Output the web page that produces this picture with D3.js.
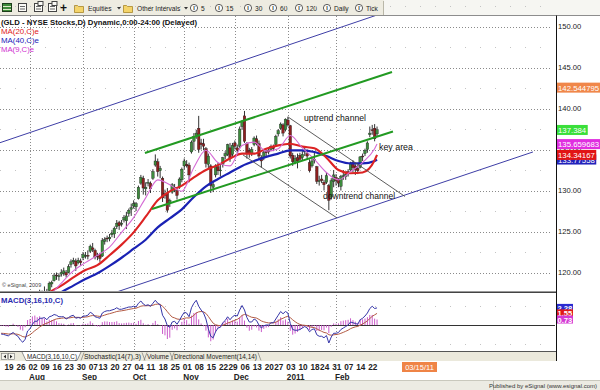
<!DOCTYPE html>
<html><head><meta charset="utf-8"><title>GLD</title>
<script src="https://cdn.jsdelivr.net/npm/d3@7/dist/d3.min.js"></script>
<style>body{margin:0;background:#fff}svg{display:block;font-family:"Liberation Sans",Arial,Helvetica,sans-serif}</style>
</head><body><svg id="chart" width="600" height="390"></svg>
<script>
// ---------------- DATA ----------------
const dates = [
"2010-07-15","2010-07-16","2010-07-19","2010-07-20","2010-07-21","2010-07-22","2010-07-23","2010-07-26","2010-07-27","2010-07-28","2010-07-29","2010-07-30",
"2010-08-02","2010-08-03","2010-08-04","2010-08-05","2010-08-06","2010-08-09","2010-08-10","2010-08-11","2010-08-12","2010-08-13","2010-08-16","2010-08-17","2010-08-18","2010-08-19","2010-08-20","2010-08-23","2010-08-24","2010-08-25","2010-08-26","2010-08-27","2010-08-30","2010-08-31",
"2010-09-01","2010-09-02","2010-09-03","2010-09-07","2010-09-08","2010-09-09","2010-09-10","2010-09-13","2010-09-14","2010-09-15","2010-09-16","2010-09-17","2010-09-20","2010-09-21","2010-09-22","2010-09-23","2010-09-24","2010-09-27","2010-09-28","2010-09-29","2010-09-30",
"2010-10-01","2010-10-04","2010-10-05","2010-10-06","2010-10-07","2010-10-08","2010-10-11","2010-10-12","2010-10-13","2010-10-14","2010-10-15","2010-10-18","2010-10-19","2010-10-20","2010-10-21","2010-10-22","2010-10-25","2010-10-26","2010-10-27","2010-10-28","2010-10-29",
"2010-11-01","2010-11-02","2010-11-03","2010-11-04","2010-11-05","2010-11-08","2010-11-09","2010-11-10","2010-11-11","2010-11-12","2010-11-15","2010-11-16","2010-11-17","2010-11-18","2010-11-19","2010-11-22","2010-11-23","2010-11-24","2010-11-26","2010-11-29","2010-11-30",
"2010-12-01","2010-12-02","2010-12-03","2010-12-06","2010-12-07","2010-12-08","2010-12-09","2010-12-10","2010-12-13","2010-12-14","2010-12-15","2010-12-16","2010-12-17","2010-12-20","2010-12-21","2010-12-22","2010-12-23","2010-12-27","2010-12-28","2010-12-29","2010-12-30","2010-12-31",
"2011-01-03","2011-01-04","2011-01-05","2011-01-06","2011-01-07","2011-01-10","2011-01-11","2011-01-12","2011-01-13","2011-01-14","2011-01-18","2011-01-19","2011-01-20","2011-01-21","2011-01-24","2011-01-25","2011-01-26","2011-01-27","2011-01-28","2011-01-31",
"2011-02-01","2011-02-02","2011-02-03","2011-02-04","2011-02-07","2011-02-08","2011-02-09","2011-02-10","2011-02-11","2011-02-14","2011-02-15","2011-02-16","2011-02-17","2011-02-18","2011-02-22","2011-02-23","2011-02-24","2011-02-25"];

const openP = [
117.0,117.2,116.4,115.5,115.6,116.3,116.0,115.4,114.3,113.2,113.0,114.0,
115.6,115.8,116.6,117.0,116.8,117.6,117.3,117.6,117.8,118.6,119.0,119.7,119.5,119.8,119.9,120.0,120.0,121.0,121.3,121.4,121.2,121.4,
121.8,122.1,122.1,122.6,123.0,122.7,122.0,122.2,122.0,123.8,124.2,124.1,124.6,124.7,125.6,126.1,125.9,126.4,126.3,127.2,127.7,
128.1,128.0,129.0,130.9,131.5,130.2,131.0,130.9,131.5,133.1,133.5,132.4,131.5,129.6,129.7,128.5,129.8,130.2,130.0,130.4,131.3,
133.0,133.2,133.1,134.7,136.0,136.7,137.6,135.8,135.7,135.1,133.2,133.0,130.4,131.9,132.9,132.5,133.2,134.2,134.4,135.2,134.4,
135.8,135.2,135.4,137.8,139.1,135.7,134.9,134.5,135.6,136.3,135.7,134.0,134.0,134.8,134.9,135.0,135.3,135.6,136.9,137.6,138.0,137.4,
138.6,137.9,134.3,133.4,134.0,134.3,134.0,134.7,134.5,133.4,133.0,133.7,132.9,131.2,131.4,131.0,131.0,130.6,129.2,131.1,
131.6,131.4,130.5,131.8,131.7,132.3,132.5,133.4,133.0,132.7,132.8,134.2,134.5,135.0,136.8,137.4,137.6,136.9];
const highP = [
117.6,117.6,116.4,116.1,116.4,116.8,116.3,115.6,114.4,113.6,114.1,115.8,
116.1,116.8,117.1,117.3,117.9,117.8,118.3,118.0,118.9,119.0,119.9,120.0,119.9,120.4,120.6,120.3,121.0,121.6,121.8,121.7,121.8,121.7,
122.5,122.5,122.7,123.4,123.6,122.9,122.4,122.4,124.2,124.3,124.5,124.7,125.2,125.6,126.4,126.3,126.4,127.0,127.4,127.8,128.4,
128.8,128.6,130.6,131.9,131.8,131.0,131.4,131.1,132.6,134.4,133.9,133.0,131.7,130.1,130.3,129.0,130.9,130.8,130.2,131.6,132.8,
133.9,133.7,133.4,136.1,137.0,137.4,139.1,136.3,136.3,135.3,134.5,133.2,131.2,133.2,133.4,133.1,134.1,134.8,135.7,135.8,135.8,
136.1,135.6,137.8,138.6,139.7,135.9,135.2,135.3,136.6,136.7,136.1,134.3,134.9,135.0,135.3,135.6,135.6,136.8,137.5,138.3,138.2,138.8,
139.0,138.0,134.6,134.3,134.5,134.6,134.8,135.2,135.0,133.8,134.1,134.6,133.0,131.8,131.9,131.3,132.2,130.8,131.5,132.5,
132.0,131.5,131.9,132.5,132.3,132.6,133.5,133.7,133.2,133.1,134.2,134.5,135.1,136.0,137.8,138.0,138.1,137.8];
const lowP = [
116.3,116.2,115.3,114.9,115.3,115.8,114.9,114.6,112.7,112.4,112.9,113.8,
115.2,115.6,116.2,116.3,116.5,117.0,116.9,116.8,117.6,118.2,118.9,119.1,119.0,119.5,119.6,119.4,119.9,120.6,121.0,120.2,121.0,120.8,
121.5,121.7,121.6,122.4,122.5,121.6,121.5,121.3,121.9,123.4,123.7,123.8,124.3,124.2,125.3,125.2,125.6,126.1,125.3,126.8,126.9,
127.8,127.5,128.9,130.7,129.5,129.4,130.5,129.7,131.3,132.9,131.7,131.5,128.6,129.0,127.3,128.0,129.6,129.8,128.9,130.2,131.0,
132.6,132.8,131.0,134.5,134.9,136.3,134.6,135.0,134.9,132.8,132.7,129.7,129.8,131.6,131.9,131.7,132.8,133.8,134.2,133.5,134.1,
135.0,134.5,135.2,137.4,135.8,133.9,134.0,134.2,135.4,135.5,133.8,132.8,133.7,134.1,134.4,134.8,134.8,135.4,136.6,137.4,136.6,137.2,
137.8,133.9,133.0,133.2,132.7,133.5,133.7,134.2,133.8,132.2,132.8,133.3,130.8,130.6,130.9,130.0,130.8,127.6,128.9,130.4,
130.6,130.4,130.0,131.3,131.3,131.7,132.4,132.2,131.9,132.0,132.7,133.6,134.2,134.6,136.5,136.8,136.0,136.6];
const closeP = [
117.0,116.6,115.8,115.2,116.0,116.3,115.3,115.0,113.0,112.8,113.5,115.5,
115.5,116.6,116.9,116.5,117.5,117.4,117.7,117.1,118.7,118.8,119.6,119.6,119.6,120.0,120.2,119.7,120.7,121.3,121.5,120.8,121.5,121.2,
122.2,122.1,122.0,123.2,122.8,121.9,121.9,121.7,123.9,124.0,124.1,124.3,124.8,125.4,126.0,125.7,126.0,126.7,126.9,127.6,127.9,
128.4,128.4,130.4,131.6,130.3,130.4,131.0,130.2,132.3,133.6,132.3,132.7,129.1,129.4,127.6,128.8,130.7,130.4,129.4,131.4,132.6,
133.6,133.0,131.9,135.9,136.6,137.0,135.0,135.6,135.4,133.3,134.2,130.6,130.7,133.0,132.4,132.5,134.0,134.5,135.6,133.9,135.5,
135.4,134.9,137.5,138.4,136.0,134.6,134.5,135.0,136.4,135.7,134.2,133.6,134.6,134.6,134.7,135.4,135.1,136.6,137.3,138.1,137.0,138.7,
138.0,134.2,133.5,133.9,133.6,133.8,134.4,134.9,134.2,132.4,133.6,133.8,131.1,131.2,131.2,130.7,131.8,128.8,131.2,131.9,
131.2,130.9,131.7,131.8,132.0,132.2,133.3,132.8,132.5,132.4,134.1,134.1,134.9,135.8,137.0,137.3,136.3,137.4];

// moving averages, read every 5th session (+ last)
const maSampleIdx = [0,5,10,15,20,25,30,35,40,45,50,55,60,65,70,75,80,85,90,95,100,105,110,115,120,125,130,135,140,145,150,155,156];
const ma20 = [117.3,116.8,116.4,116.6,117.6,118.4,119.4,120.3,120.9,122.1,123.4,124.9,126.8,128.8,129.9,130.6,131.6,132.5,133.1,133.9,134.5,134.5,135.1,135.5,135.7,135.35,135.15,134.0,132.5,132.1,132.2,133.7,134.34];
const ma40 = [116.9,116.7,116.4,116.3,116.6,117.6,118.4,119.2,119.9,120.8,121.8,122.9,124.0,125.5,126.6,127.7,129.2,130.5,131.4,132.2,133.0,133.6,134.1,134.5,134.9,134.9,134.7,134.2,133.6,133.3,133.3,133.6,133.77];
const ma9  = [116.6,115.9,114.8,115.0,117.1,118.7,120.2,121.2,122.1,123.1,124.9,126.7,129.1,131.3,130.7,129.9,132.8,134.9,133.4,133.0,135.5,135.9,134.8,135.1,136.7,135.2,133.8,132.2,131.3,132.3,133.4,135.1,135.66];

// MACD(3,16,10)
const macdLine = [
-1.20,-1.25,-1.35,-1.45,-1.20,-1.00,-1.30,-1.50,-2.00,-2.30,
-1.90,-0.80,-0.50,0.10,0.50,0.50,0.90,0.90,1.00,0.70,
1.10,1.20,1.40,1.30,1.10,1.10,1.10,0.80,1.00,1.20,
1.30,0.90,1.00,0.90,1.20,1.20,1.30,1.70,1.50,1.10,
1.00,0.90,1.60,1.80,1.90,1.90,2.00,2.10,2.30,2.10,
2.10,2.20,2.30,2.40,2.40,2.50,2.40,2.90,3.20,2.80,
2.60,2.70,2.50,2.90,3.30,2.90,2.70,1.30,0.80,-0.10,
-0.30,0.40,0.50,0.10,0.60,1.20,1.70,1.60,1.10,2.30,
2.90,3.30,2.50,2.00,1.60,0.80,-0.50,-1.50,-1.70,-0.90,
-0.40,-0.30,0.30,0.60,1.10,0.70,1.10,1.30,1.20,2.00,
2.60,2.00,1.00,0.40,0.40,0.80,0.60,0.00,-0.40,-0.10,
0.00,0.00,0.30,0.30,0.80,1.30,1.80,1.50,1.80,1.60,
0.20,-0.60,-0.70,-0.70,-0.60,-0.40,-0.20,-0.40,-0.90,-0.60,
-0.50,-1.30,-1.50,-1.50,-1.70,-1.40,-2.40,-1.60,-1.10,-1.10,
-1.00,-0.60,-0.40,-0.20,0.00,0.40,0.30,0.20,0.10,0.70,
0.90,1.20,1.60,2.20,2.50,2.20,2.28];
const macdSignal = [
-1.10,-1.12,-1.15,-1.20,-1.20,-1.17,-1.19,-1.25,-1.38,-1.55,
-1.61,-1.46,-1.29,-1.04,-0.76,-0.53,-0.27,-0.06,0.13,0.23,
0.39,0.54,0.70,0.81,0.86,0.90,0.94,0.91,0.93,0.98,
1.04,1.02,1.02,1.00,1.03,1.06,1.10,1.21,1.26,1.23,
1.19,1.14,1.22,1.32,1.43,1.51,1.60,1.69,1.80,1.85,
1.89,1.95,2.01,2.08,2.14,2.20,2.24,2.36,2.51,2.56,
2.56,2.58,2.57,2.63,2.75,2.78,2.76,2.49,2.18,1.77,
1.39,1.05,0.95,0.80,0.76,0.78,0.90,0.95,0.93,1.05,
1.30,1.60,1.75,1.80,1.76,1.55,1.15,0.67,0.24,0.03,
-0.05,-0.10,-0.03,0.08,0.26,0.37,0.50,0.64,0.75,0.97,
1.28,1.41,1.34,1.17,1.03,0.99,0.92,0.75,0.54,0.42,
0.34,0.28,0.28,0.28,0.37,0.54,0.77,0.90,1.06,1.16,
0.98,0.69,0.44,0.23,0.08,-0.01,-0.04,-0.10,-0.24,-0.31,
-0.34,-0.51,-0.69,-0.84,-0.99,-1.06,-1.30,-1.36,-1.31,-1.27,
-1.22,-1.11,-0.98,-0.84,-0.69,-0.49,-0.35,-0.25,-0.19,-0.03,
0.14,0.33,0.56,0.86,1.16,1.35,1.55];
const macdHist = [
-0.10,-0.13,-0.20,-0.25,0.00,0.17,-0.11,-0.25,-0.62,-0.75,
-0.29,0.66,0.79,1.14,1.26,1.03,1.17,0.96,0.87,0.47,
0.71,0.66,0.70,0.49,0.24,0.20,0.16,-0.11,0.07,0.22,
0.26,-0.12,-0.02,-0.10,0.17,0.14,0.20,0.49,0.24,-0.13,
-0.19,-0.24,0.38,0.48,0.47,0.39,0.40,0.41,0.50,0.25,
0.21,0.25,0.29,0.32,0.26,0.30,0.16,0.54,0.69,0.24,
0.04,0.12,-0.07,0.27,0.55,0.12,-0.06,-1.19,-1.38,-1.87,
-1.69,-0.65,-0.45,-0.70,-0.16,0.42,0.80,0.65,0.17,1.25,
1.60,1.70,0.75,0.20,-0.16,-0.75,-1.65,-2.17,-1.94,-0.93,
-0.35,-0.20,0.33,0.52,0.84,0.33,0.60,0.66,0.45,1.03,
1.32,0.59,-0.34,-0.77,-0.63,-0.19,-0.32,-0.75,-0.94,-0.52,
-0.34,-0.28,0.02,0.02,0.43,0.76,1.03,0.60,0.74,0.44,
-0.78,-1.29,-1.14,-0.93,-0.68,-0.39,-0.16,-0.30,-0.66,-0.29,
-0.16,-0.79,-0.81,-0.66,-0.71,-0.34,-1.10,-0.24,0.21,0.17,
0.22,0.51,0.58,0.64,0.69,0.89,0.65,0.45,0.29,0.73,
0.76,0.87,1.04,1.34,1.34,0.85,0.73];

// axis / labels
const priceTicks = [120,125,130,135,140,145,150];
const dayTickDates = ["2010-07-19","2010-07-26","2010-08-02","2010-08-09","2010-08-16","2010-08-23","2010-08-30","2010-09-07","2010-09-13","2010-09-20","2010-09-27","2010-10-04","2010-10-11","2010-10-18","2010-10-25","2010-11-01","2010-11-08","2010-11-15","2010-11-22","2010-11-29","2010-12-06","2010-12-13","2010-12-20","2010-12-27","2011-01-03","2011-01-10","2011-01-18","2011-01-24","2011-01-31","2011-02-07","2011-02-14","2011-02-22"];
const monthTickDates = ["2010-08-02","2010-09-01","2010-10-01","2010-11-01","2010-12-01","2011-01-03","2011-02-01"];
const monthTickLabels = ["Aug","Sep","Oct","Nov","Dec","2011","Feb"];
const lastValueLabels = ["142.544795","137.384","135.659683","134.34167","133.77558"]; // channel, close, MA9, MA20, MA40
const macdValueLabels = ["2.28","1.55","0.73"];

// drawn tools: [session index, price] end points
const blueUpper = [[-0.45,135.83],[156,151.4]];
const blueLower = [[45,117.33],[220.7,134.70]];
const greenUpper = [[59.7,134.57],[162.2,144.45]];
const greenLower = [[62.6,127.74],[162.6,137.20]];
const downUpper = [[119.1,138.96],[167.6,129.27]];
const downLower = [[100.4,134.33],[139.4,126.65]];
const notes = [["uptrend channel",125.7,138.48],["key area",156.8,134.94],["downtrend channel",133.6,128.96]];

// ---------------- DRAW ----------------
const svg = d3.select("#chart");
const n = dates.length;
const x = d3.scaleLinear().domain([0, n-1]).range([1.08, 377.04]);
const y = d3.scaleLinear().domain([120,150]).range([272.5,26.5]);
const ym = d3.scaleLinear().domain([-4,4]).range([355,295]);
const di = s => dates.indexOf(s);
const r5 = v => Math.round(v)+0.5;

svg.append("rect").attr("width",600).attr("height",390).attr("fill","#fff");
const defs = svg.append("defs");
defs.append("clipPath").attr("id","clipP").append("rect").attr("x",0).attr("y",16).attr("width",553).attr("height",275);
defs.append("clipPath").attr("id","clipM").append("rect").attr("x",0).attr("y",293).attr("width",555).attr("height",58);

// toolbar
const tb = svg.append("g");
tb.append("rect").attr("x",0).attr("y",0).attr("width",384).attr("height",15).attr("fill","#eeece1");
tb.append("rect").attr("x",384).attr("y",0).attr("width",216).attr("height",15).attr("fill","#f6f6f2");
tb.append("line").attr("x1",383.5).attr("x2",383.5).attr("y1",1).attr("y2",15).attr("stroke","#b9b7a8");
tb.append("rect").attr("x",2.5).attr("y",3.5).attr("width",9).attr("height",8).attr("fill","#3f8a3a").attr("stroke","#1d3d1b");
tb.append("line").attr("x1",3).attr("x2",11).attr("y1",6.5).attr("y2",6.5).attr("stroke","#dfe9c8");
tb.append("line").attr("x1",3).attr("x2",11).attr("y1",9.5).attr("y2",9.5).attr("stroke","#dfe9c8");
[18,34,48].forEach((ix,k)=>{
  tb.append("rect").attr("x",ix+0.5).attr("y",3.5).attr("width",8).attr("height",8).attr("fill","#fbfbf6").attr("stroke","#444");
  tb.append("line").attr("x1",ix+2).attr("x2",ix+7).attr("y1",6.5).attr("y2",6.5).attr("stroke","#666");
  tb.append("line").attr("x1",ix+2).attr("x2",ix+7).attr("y1",9).attr("y2",9).attr("stroke","#666");
  if(k>0) tb.append("rect").attr("x",ix+4).attr("y",1.5).attr("width",5).attr("height",4).attr("fill","#fbfbf6").attr("stroke","#444");
});
tb.append("text").attr("x",60).attr("y",12).attr("font-size",12).attr("font-weight","bold").attr("fill","#111").text("+");
[74,123].forEach(ix=>{
  tb.append("path").attr("d",`M${ix+0.5},5.5 h3 l1,1 h5 v6 h-9 z`).attr("fill","#f4d46a").attr("stroke","#a8862a").attr("stroke-width",0.8);
});
tb.append("text").attr("x",88).attr("y",10.5).attr("font-size",6.6).attr("fill","#222").text("Equities");
tb.append("path").attr("d","M117,7 h4 l-2,2.5 z").attr("fill","#333");
tb.append("text").attr("x",137).attr("y",10.5).attr("font-size",6.6).attr("fill","#222").text("Other Intervals");
tb.append("path").attr("d","M184,7 h4 l-2,2.5 z").attr("fill","#333");
const intervals = ["5","15","30","60","120","Daily","Tick"];
const icx = [194,219,248,273,299,327,359];
intervals.forEach((t,k)=>{
  tb.append("circle").attr("cx",icx[k]).attr("cy",8).attr("r",3.6).attr("fill","#fff").attr("stroke","#333").attr("stroke-width",0.8);
  tb.append("text").attr("x",icx[k]).attr("y",10.2).attr("text-anchor","middle").attr("font-size",5.5).attr("font-weight","bold").attr("fill","#222").text("I");
  tb.append("text").attr("x",icx[k]+7).attr("y",10.5).attr("font-size",6.6).attr("fill","#222").text(t);
});
svg.append("line").attr("x1",0).attr("x2",600).attr("y1",15.5).attr("y2",15.5).attr("stroke","#8d8d8d");

// grid
const grid = svg.append("g");
priceTicks.forEach(p=>{
  grid.append("line").attr("x1",0).attr("x2",552).attr("y1",r5(y(p))).attr("y2",r5(y(p))).attr("stroke","#8a8a8a").attr("stroke-dasharray","1,2");
  grid.append("line").attr("x1",0).attr("x2",552).attr("y1",r5(y(p+2.5))).attr("y2",r5(y(p+2.5))).attr("stroke","#c4c4c4").attr("stroke-dasharray","1,14");
});
monthTickDates.forEach(d=>{
  const xx = r5(x(di(d)));
  grid.append("line").attr("x1",xx).attr("x2",xx).attr("y1",16).attr("y2",351).attr("stroke","#8a8a8a").attr("stroke-dasharray","1,2");
});
[-2.5,2.5].forEach(v=>grid.append("line").attr("x1",0).attr("x2",552).attr("y1",r5(ym(v))).attr("y2",r5(ym(v))).attr("stroke","#c4c4c4").attr("stroke-dasharray","1,14"));

// price panel
const pg = svg.append("g").attr("clip-path","url(#clipP)");
pg.append("text").attr("x",2).attr("y",287).attr("font-size",5.5).attr("fill","#444").text("© eSignal, 2009");
const cand = pg.append("g");
dates.forEach((d,i)=>{
  const cx = x(i);
  cand.append("line").attr("x1",cx).attr("x2",cx).attr("y1",y(highP[i])).attr("y2",y(lowP[i])).attr("stroke","#1c1c1c").attr("stroke-width",0.9);
  const up = closeP[i] >= openP[i];
  const top = y(Math.max(openP[i],closeP[i])), bot = y(Math.min(openP[i],closeP[i]));
  cand.append("rect").attr("x",cx-1.3).attr("width",2.6).attr("y",top).attr("height",Math.max(0.9,bot-top))
    .attr("fill", up ? "#3d8b3d" : "#8e1f1f").attr("stroke","#1c1c1c").attr("stroke-width",0.35);
});
const maLine = arr => d3.line().x((v,k)=>x(maSampleIdx[k])).y(v=>y(v)).curve(d3.curveMonotoneX)(arr);
pg.append("path").attr("d",maLine(ma40)).attr("fill","none").attr("stroke","#1a22b4").attr("stroke-width",2.2);
pg.append("path").attr("d",maLine(ma20)).attr("fill","none").attr("stroke","#dc2323").attr("stroke-width",2.1);
pg.append("path").attr("d",maLine(ma9)).attr("fill","none").attr("stroke","#d56ad5").attr("stroke-width",1.1);
const seg = (pts,col,w)=>pg.append("line").attr("x1",x(pts[0][0])).attr("y1",y(pts[0][1])).attr("x2",x(pts[1][0])).attr("y2",y(pts[1][1])).attr("stroke",col).attr("stroke-width",w);
seg(blueUpper,"#3e3ea6",1); seg(blueLower,"#3e3ea6",1);
seg(greenUpper,"#229a22",2); seg(greenLower,"#229a22",2);
seg(downUpper,"#4a4a4a",0.9); seg(downLower,"#4a4a4a",0.9);
const noteW = [62,34,72];
notes.forEach((t,k)=>{
  pg.append("text").attr("x",x(t[1])).attr("y",y(t[2])).attr("font-size",9).attr("fill","#111")
    .attr("textLength",noteW[k]).attr("lengthAdjust","spacingAndGlyphs").text(t[0]);
});
// legend
svg.append("text").attr("x",1).attr("y",24.5).attr("font-size",8).attr("font-weight","bold").attr("fill","#111")
  .attr("textLength",196).attr("lengthAdjust","spacingAndGlyphs").text("(GLD - NYSE Stocks,D) Dynamic,0:00-24:00 (Delayed)");
[["MA(20,C)e","#e02020",33.5,38],["MA(40,C)e","#2020b8",42.8,38],["MA(9,C)e","#d030d0",52,33]].forEach(m=>{
  svg.append("text").attr("x",1).attr("y",m[2]).attr("font-size",8).attr("fill",m[1]).attr("textLength",m[3]).attr("lengthAdjust","spacingAndGlyphs").text(m[0]);
});

// MACD panel
svg.append("line").attr("x1",0).attr("x2",556).attr("y1",291.5).attr("y2",291.5).attr("stroke","#9a9a9a");
svg.append("line").attr("x1",0).attr("x2",556).attr("y1",292.5).attr("y2",292.5).attr("stroke","#444");
const mg = svg.append("g").attr("clip-path","url(#clipM)");
mg.append("line").attr("x1",0).attr("x2",556).attr("y1",r5(ym(0))).attr("y2",r5(ym(0))).attr("stroke","#333");
macdHist.forEach((v,i)=>{
  mg.append("line").attr("x1",x(i)).attr("x2",x(i)).attr("y1",ym(0)).attr("y2",ym(v)).attr("stroke","#c447c4").attr("stroke-width",0.9);
});
const ml = d3.line().x((v,i)=>x(i)).y(v=>ym(v));
mg.append("path").attr("d",ml(macdSignal)).attr("fill","none").attr("stroke","#b35a43").attr("stroke-width",1);
mg.append("path").attr("d",ml(macdLine)).attr("fill","none").attr("stroke","#3535a8").attr("stroke-width",1);
svg.append("text").attr("x",1).attr("y",302.5).attr("font-size",8).attr("font-weight","bold").attr("fill","#2b2bb0")
  .attr("textLength",62).attr("lengthAdjust","spacingAndGlyphs").text("MACD(3,16,10,C)");
svg.append("line").attr("x1",0).attr("x2",556).attr("y1",351.5).attr("y2",351.5).attr("stroke","#555");

// tabs
svg.append("rect").attr("x",0).attr("y",352).attr("width",556).attr("height",9).attr("fill","#ebe9dc");
svg.append("rect").attr("x",1.5).attr("y",353.5).attr("width",6).attr("height",6).attr("fill","#f7f6ef").attr("stroke","#777").attr("stroke-width",0.6);
svg.append("rect").attr("x",8.5).attr("y",353.5).attr("width",6).attr("height",6).attr("fill","#f7f6ef").attr("stroke","#777").attr("stroke-width",0.6);
svg.append("path").attr("d","M6,354.8 v3.6 l-2.4,-1.8 z").attr("fill","#222");
svg.append("path").attr("d","M10,354.8 v3.6 l2.4,-1.8 z").attr("fill","#222");
svg.append("path").attr("d","M22,352 l4,8.5 h51 l4,-8.5").attr("fill","#fff").attr("stroke","#666").attr("stroke-width",0.7);
const tabs = [["MACD(3,16,10,C)",27,50],["Stochastic(14(7),3)",84,57],["Volume",147,22],["Directional Movement(14,14)",174,83]];
tabs.forEach((t,k)=>{
  svg.append("text").attr("x",t[1]).attr("y",359).attr("font-size",6.3).attr("fill","#222").attr("textLength",t[2]).attr("lengthAdjust","spacingAndGlyphs").text(t[0]);
  if(k>0){ const e=t[1]+t[2]+1; svg.append("path").attr("d",`M${t[1]-3},360.5 l3,-8 M${e},352.5 l3,8`).attr("stroke","#666").attr("stroke-width",0.6).attr("fill","none"); }
});

// right axis
svg.append("line").attr("x1",556.5).attr("x2",556.5).attr("y1",15.5).attr("y2",361).attr("stroke","#111");
priceTicks.forEach(p=>{
  svg.append("text").attr("x",558).attr("y",y(p)+2.8).attr("font-size",7.6).attr("fill","#1a1a1a").text(p.toFixed(2));
});
const lvVals = lastValueLabels.map(Number);
const lvCol = ["#f0874a","#3adf3a","#e02ee0","#e11414","#2222bb"];
const lvOrder = [0,1,4,2,3];
lvOrder.forEach(k=>{
  const cy = y(lvVals[k]);
  const w = lastValueLabels[k].length*4.25+1;
  svg.append("rect").attr("x",557).attr("y",cy-5).attr("width",w).attr("height",10).attr("fill",lvCol[k]);
  svg.append("text").attr("x",558).attr("y",cy+3).attr("font-size",7.8).attr("fill","#fff").text(lastValueLabels[k]);
});
const mvCol = ["#2a2ad0","#e01818","#d43ad4"];
macdValueLabels.forEach((s,k)=>{
  const cy = ym(Number(s));
  svg.append("rect").attr("x",557).attr("y",cy-4).attr("width",16).attr("height",8).attr("fill",mvCol[k]);
  svg.append("text").attr("x",557.5).attr("y",cy+3).attr("font-size",7.6).attr("font-weight","bold").attr("fill","#fff").text(s);
});

// date axis
dayTickDates.forEach(d=>{
  svg.append("text").attr("x",x(di(d))-1.5).attr("y",369.5).attr("font-size",8.2).attr("font-weight","bold").attr("fill","#222").text(d.slice(8));
});
monthTickDates.forEach((d,k)=>{
  svg.append("text").attr("x",x(di(d))-1).attr("y",379.5).attr("font-size",8.2).attr("font-weight","bold").attr("fill","#222").text(monthTickLabels[k]);
});
svg.append("rect").attr("x",402).attr("y",362).attr("width",35).attr("height",10).attr("fill","#ef8446");
svg.append("text").attr("x",419.5).attr("y",370).attr("text-anchor","middle").attr("font-size",7.5).attr("fill","#fff").text("03/15/11");

// status bar
svg.append("rect").attr("x",0).attr("y",381).attr("width",600).attr("height",9).attr("fill","#ecebe3");
svg.append("line").attr("x1",0).attr("x2",600).attr("y1",380.5).attr("y2",380.5).attr("stroke","#c9c8bd");
svg.append("line").attr("x1",493.5).attr("x2",493.5).attr("y1",381).attr("y2",390).attr("stroke","#b5b4a8");
svg.append("text").attr("x",597).attr("y",388).attr("text-anchor","end").attr("font-size",6).attr("fill","#333").text("Published by eSignal (www.esignal.com)");
</script></body></html>
